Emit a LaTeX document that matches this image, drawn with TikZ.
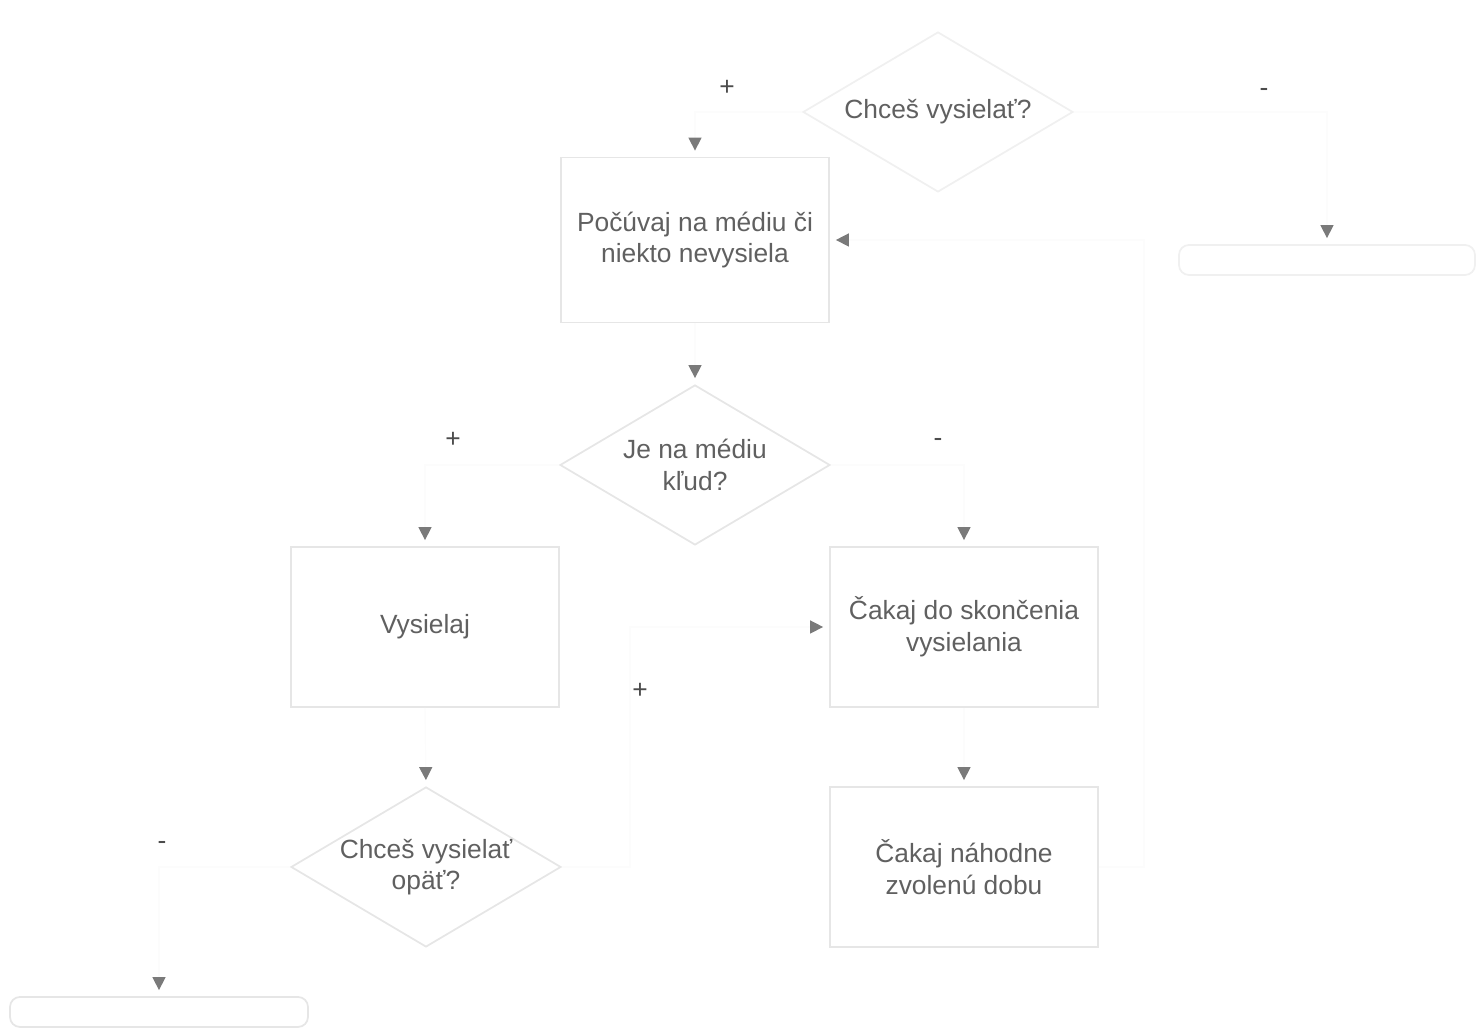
\documentclass[tikz,border=0pt]{standalone}
\usepackage{fontspec}
\setmainfont{Liberation Sans}
\usetikzlibrary{shapes.geometric,arrows.meta}
\definecolor{txtgray}{HTML}{606060}
\definecolor{tipgray}{HTML}{7A7A7A}
\definecolor{linegray}{HTML}{E6E6E6}

\begin{document}
\begin{tikzpicture}[x=0.1mm,y=-0.1mm,font=\fontsize{7.5}{9}\selectfont,text=txtgray,
  box/.style={draw=linegray,line width=0.5pt,minimum width=26.8mm,minimum height=16mm,align=center,inner sep=0pt},
  decide/.style={diamond,draw=linegray,line width=0.5pt,minimum width=27mm,minimum height=16mm,aspect=1.7,align=center,inner sep=0pt},
  term/.style={draw=linegray,line width=0.5pt,rounded corners=1mm,minimum width=29.6mm,minimum height=3mm,inner sep=0pt},
  flow/.style={draw=black!1,line width=0.4pt,shorten >=0.6mm,-{Triangle[length=1.3mm,width=1.3mm,color=tipgray,fill=tipgray]}}]
\useasboundingbox (0,0) rectangle (1478,1028);
\node[decide,draw=black!6] (start) at (938,112) {Chceš vysielať?};
\node[box,minimum height=16.5mm] (listen) at (695,240) {Počúvaj na médiu či\\niekto nevysiela};
\node[decide] (idle) at (695,465) {Je na médiu\\kľud?};
\node[box] (send) at (425,627) {Vysielaj};
\node[box] (waitend) at (964,627) {Čakaj do skončenia\\vysielania};
\node[decide] (again) at (426,867) {Chceš vysielať\\opäť?};
\node[box] (waitrand) at (964,867) {Čakaj náhodne\\zvolenú dobu};
\node[term,draw=black!6] (endR) at (1327,260) {};
\node[term,minimum width=29.8mm] (endL) at (159,1012) {};
% connectors
\draw[flow] (start.west) -| (listen.north);
\draw[flow] (start.east) -| (endR.north);
\draw[flow] (listen.south) -- (idle.north);
\draw[flow] (idle.west) -| (send.north);
\draw[flow] (idle.east) -| (waitend.north);
\draw[flow] (send.south) -- (again.north);
\draw[flow] (again.west) -| (endL.north);
\draw[flow] (again.east) -- ++(68,0) |- (waitend.west);
\draw[flow] (waitend.south) -- (waitrand.north);
\draw[flow] (waitrand.east) -- ++(45,0) |- (listen.east);
% branch labels
\foreach \x/\y/\t [count=\i] in {727/88/+,1264/93/-,453/440/+,938/443/-,640/691/+,162/846/-}
  \node[text=black!70] (lbl\i) at (\x,\y) {\t};
\end{tikzpicture}
\end{document}
